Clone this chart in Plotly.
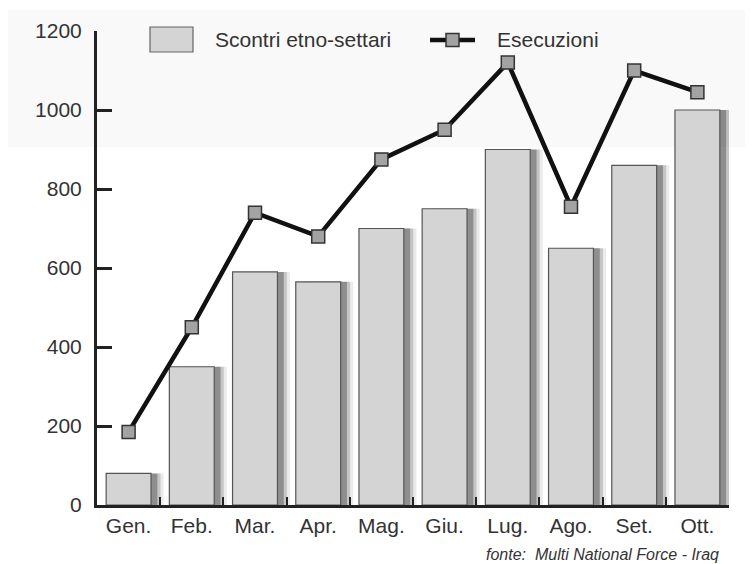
import plotly.graph_objects as go

mesi = ["Gen.", "Feb.", "Mar.", "Apr.", "Mag.", "Giu.", "Lug.", "Ago.", "Set.", "Ott."]
scontri = [80, 350, 590, 565, 700, 750, 900, 650, 860, 1000]
esecuzioni = [185, 450, 740, 680, 875, 950, 1120, 755, 1100, 1045]
y_ticks = [0, 200, 400, 600, 800, 1000, 1200]

FONT = "Liberation Sans, Arial, Helvetica, sans-serif"
BAR_W = 0.71

fig = go.Figure()
# soft drop shadows behind bars
for shift, alpha in [(0.22, 0.08), (0.17, 0.16), (0.12, 0.28)]:
    fig.add_trace(go.Bar(
        x=mesi, y=scontri, width=BAR_W - 0.02, offset=-BAR_W / 2 + shift,
        marker=dict(color=f"rgba(0,0,0,{alpha})", line=dict(width=0)),
        showlegend=False, hoverinfo="skip",
    ))
fig.add_trace(go.Bar(
    x=mesi, y=scontri, name="Scontri etno-settari",
    marker=dict(color="#d4d4d4", line=dict(color="#555555", width=1.2)),
    width=BAR_W, offset=-BAR_W / 2, showlegend=False,
))
fig.add_trace(go.Scatter(
    x=mesi, y=esecuzioni, name="Esecuzioni", mode="lines+markers",
    line=dict(color="#111111", width=4.5),
    marker=dict(symbol="square", size=13, color="#a3a3a3",
                line=dict(color="#333333", width=1.5)),
    showlegend=False,
))

# page coordinates (the page body adds an 8px offset) -> paper coordinates
def px_x(p):
    return (p - 97) / 632.0

def px_y(p):
    return (505 - p) / 474.0

shapes = [
    # faint scan band at the top
    dict(type="rect", xref="paper", yref="paper", layer="below",
         x0=px_x(8), x1=px_x(760), y0=px_y(147), y1=px_y(10),
         fillcolor="#f9f9f9", line=dict(width=0)),
    # legend: bar box
    dict(type="rect", xref="paper", yref="paper",
         x0=px_x(150), x1=px_x(193), y0=px_y(52), y1=px_y(27),
         fillcolor="#d4d4d4", line=dict(color="#666666", width=1.2)),
    # legend: line
    dict(type="line", xref="paper", yref="paper",
         x0=px_x(430), x1=px_x(475), y0=px_y(40), y1=px_y(40),
         line=dict(color="#111111", width=4.5)),
    # legend: marker square
    dict(type="rect", xref="paper", yref="paper",
         x0=px_x(446), x1=px_x(459), y0=px_y(46.5), y1=px_y(33.5),
         fillcolor="#a3a3a3", line=dict(color="#333333", width=1.5)),
]

annotations = [
    dict(text="Scontri etno-settari", xref="paper", yref="paper",
         x=px_x(213), y=px_y(40), xanchor="left", yanchor="middle", showarrow=False,
         font=dict(size=21, color="#333333", family=FONT)),
    dict(text="Esecuzioni", xref="paper", yref="paper",
         x=px_x(495), y=px_y(40), xanchor="left", yanchor="middle", showarrow=False,
         font=dict(size=21, color="#333333", family=FONT)),
    dict(text="<i>fonte:  Multi National Force - Iraq</i>", xref="paper", yref="paper",
         x=px_x(721), y=px_y(554), xanchor="right", yanchor="middle", showarrow=False,
         font=dict(size=16, color="#333333", family=FONT)),
]

fig.update_layout(
    width=745, height=556,
    margin=dict(l=89, r=24, t=23, b=59, autoexpand=False),
    paper_bgcolor="white", plot_bgcolor="rgba(0,0,0,0)",
    font=dict(family=FONT, size=21, color="#333333"),
    barmode="overlay",
    showlegend=False,
    shapes=shapes,
    annotations=annotations,
    xaxis=dict(
        type="category", showgrid=False, showline=True, linecolor="#222222", linewidth=3,
        ticks="inside", tickson="boundaries", ticklen=8, tickwidth=2, tickcolor="#222222",
        tickfont=dict(size=21, color="#333333"), range=[-0.5, 9.5], automargin=False,
    ),
    yaxis=dict(
        range=[0, 1200], tickvals=y_ticks, showgrid=False, zeroline=False,
        showline=True, linecolor="#222222", linewidth=3,
        ticks="inside", ticklen=15, tickwidth=3, tickcolor="#222222",
        tickfont=dict(size=21, color="#333333"), ticklabelstandoff=8, automargin=False,
    ),
)

fig.write_html("out.html")
